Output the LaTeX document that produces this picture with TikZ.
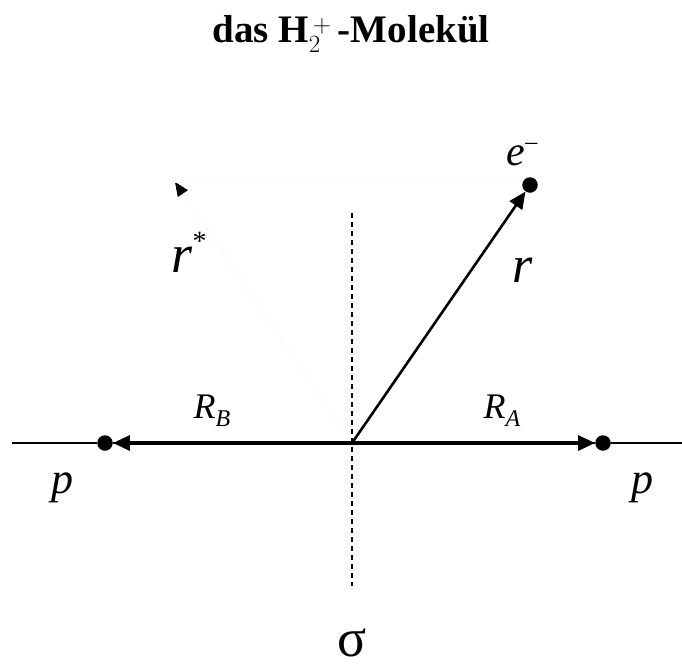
\documentclass[tikz,border=0pt]{standalone}
\usepackage{fontspec}
\setmainfont{Liberation Serif}
\usetikzlibrary{arrows.meta}
\begin{document}
\begin{tikzpicture}[x=1pt,y=-1pt,
  dot/.style={circle,fill=black,inner sep=0pt,minimum size=15.5pt},
  vec/.style={line width=3.2pt,-{Triangle[length=17pt,width=15pt]}},
  ghost/.style={draw=black!3,line width=0.8pt},
  lbl/.style={inner sep=0pt,font=\fontsize{#1}{#1}\selectfont\itshape},
  lbl/.default=30]
\useasboundingbox (0,0) rectangle (682,667);
% title
\node[inner sep=0pt,font=\fontsize{39}{39}\selectfont\bfseries] (title) at (351,34) {das H$_2^{\,+}$\,-Molekül};
% key points
\coordinate (O) at (352,443);
\coordinate (L) at (12,443);
\coordinate (Rt) at (682,443);
\coordinate (Stop) at (352,213);
\coordinate (Sbot) at (352,586);
\coordinate (Rstar) at (175,182);
% dots
\node[dot] (B) at (105,443) {};
\node[dot] (A) at (603,443) {};
\node[dot] (E) at (530,185) {};
% axis and plane
\draw[line width=1.2pt] (L) -- (B) -- (A) -- (Rt);
\draw[line width=1.3pt,dash pattern=on 5pt off 4pt] (Stop) -- (Sbot);
% faint mirror vector
\draw[ghost,-{Triangle[length=14pt,width=12pt,black]}] (O) -- (Rstar);
\draw[ghost,dashed] (Rstar) -- (E.west |- Rstar);
% vectors
\draw[vec] (O) -- (B);
\draw[vec] (O) -- (A);
\draw[vec,line width=2.6pt] (O) -- (E);
% labels
\node[lbl=36] (RB) at (212,411) {R\raisebox{-8pt}{\fontsize{24}{24}\selectfont B}};
\node[lbl=36] (RA) at (502,411) {R\raisebox{-8pt}{\fontsize{24}{24}\selectfont A}};
\node[lbl=42] (e) at (522,155) {e\raisebox{16pt}{\upshape\fontsize{24}{24}\selectfont\symbol{"2013}}};
\node[lbl=52] (r) at (523,270) {r};
\node[lbl=54] (rs) at (189,252) {r\raisebox{22pt}{\upshape\fontsize{28}{28}\selectfont *}};
\node[lbl=44] (pl) at (62,488) {p};
\node[lbl=44] (pr) at (642,488) {p};
\node[inner sep=0pt,font=\fontsize{54}{54}\selectfont] (sig) at (352,643) {σ};
\end{tikzpicture}
\end{document}
